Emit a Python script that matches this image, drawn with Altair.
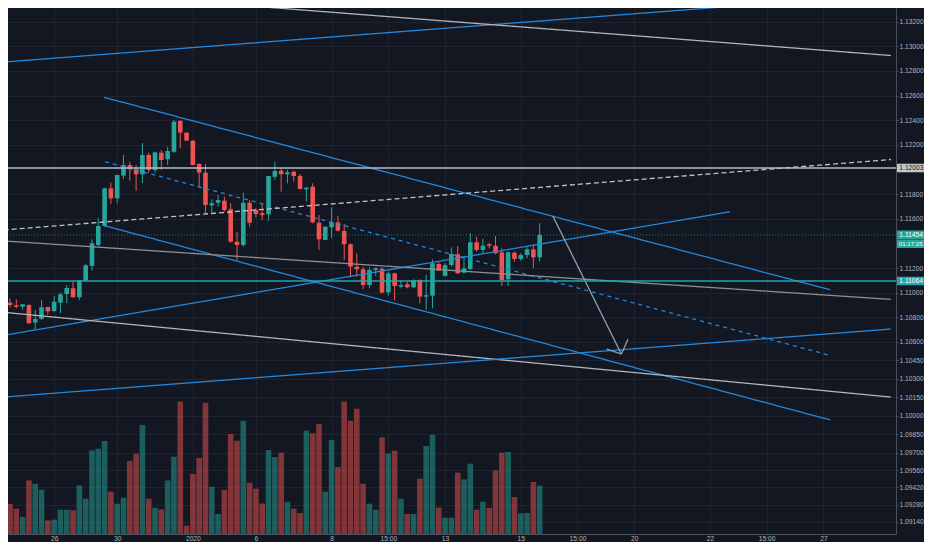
import json
import altair as alt
import pandas as pd

# ---------------- data ----------------
bar_index = list(range(86))

opens = [1.10803, 1.10919, 1.10898, 1.10886, 1.10900, 1.10757, 1.10787, 1.10884, 1.10851, 1.10919,
         1.10989, 1.11036, 1.10963, 1.11097, 1.11217, 1.11387, 1.11541, 1.11847, 1.11766, 1.11950,
         1.12036, 1.12002, 1.11961, 1.12118, 1.11996, 1.12136, 1.12083, 1.12144, 1.12394, 1.12299,
         1.12234, 1.12045, 1.11974, 1.11709, 1.11730, 1.11747, 1.11677, 1.11414, 1.11387, 1.11730,
         1.11671, 1.11644, 1.11636, 1.11941, 1.11990, 1.11961, 1.11982, 1.11947, 1.11839, 1.11860,
         1.11568, 1.11428, 1.11531, 1.11571, 1.11501, 1.11393, 1.11211, 1.11190, 1.11062, 1.11184,
         1.11195, 1.11003, 1.11157, 1.11049, 1.11068, 1.11044, 1.11103, 1.10968, 1.10976, 1.11233,
         1.11136, 1.11225, 1.11312, 1.11162, 1.11192, 1.11409, 1.11347, 1.11393, 1.11381, 1.11328,
         1.11109, 1.11325, 1.11274, 1.11306, 1.11352, 1.11287]

highs = [1.10933, 1.10955, 1.10946, 1.10906, 1.10906, 1.10860, 1.10941, 1.10886, 1.10973, 1.11000,
         1.11062, 1.11097, 1.11105, 1.11233, 1.11433, 1.11604, 1.11852, 1.11893, 1.11957, 1.12118,
         1.12063, 1.12036, 1.12215, 1.12136, 1.12144, 1.12158, 1.12185, 1.12402, 1.12402, 1.12299,
         1.12239, 1.12050, 1.12045, 1.11758, 1.11793, 1.11779, 1.11726, 1.11495, 1.11812, 1.11752,
         1.11685, 1.11726, 1.11950, 1.12063, 1.12010, 1.11996, 1.11990, 1.11963, 1.11860, 1.11888,
         1.11631, 1.11538, 1.11693, 1.11623, 1.11558, 1.11401, 1.11320, 1.11211, 1.11206, 1.11206,
         1.11206, 1.11170, 1.11162, 1.11103, 1.11089, 1.11109, 1.11109, 1.11144, 1.11271, 1.11252,
         1.11239, 1.11368, 1.11379, 1.11298, 1.11482, 1.11454, 1.11436, 1.11406, 1.11460, 1.11360,
         1.11333, 1.11333, 1.11320, 1.11373, 1.11387, 1.11563]

lows = [1.10795, 1.10882, 1.10873, 1.10860, 1.10748, 1.10697, 1.10778, 1.10821, 1.10846, 1.10833,
        1.10914, 1.10960, 1.10941, 1.11095, 1.11179, 1.11373, 1.11536, 1.11720, 1.11726, 1.11923,
        1.11909, 1.11828, 1.11890, 1.11974, 1.11974, 1.11996, 1.12036, 1.12136, 1.12172, 1.12234,
        1.12034, 1.11860, 1.11644, 1.11649, 1.11698, 1.11657, 1.11406, 1.11265, 1.11373, 1.11536,
        1.11612, 1.11590, 1.11584, 1.11915, 1.11820, 1.11888, 1.11901, 1.11840, 1.11739, 1.11563,
        1.11347, 1.11426, 1.11442, 1.11495, 1.11265, 1.11125, 1.11130, 1.11028, 1.11036, 1.11136,
        1.10998, 1.10976, 1.10935, 1.11036, 1.11036, 1.11036, 1.10914, 1.10860, 1.10873, 1.11177,
        1.11130, 1.11211, 1.11152, 1.11157, 1.11184, 1.11333, 1.11320, 1.11360, 1.11312, 1.11054,
        1.11054, 1.11252, 1.11260, 1.11279, 1.11198, 1.11252]

closes = [1.10914, 1.10900, 1.10886, 1.10906, 1.10752, 1.10787, 1.10882, 1.10849, 1.10927, 1.10987,
          1.11038, 1.10963, 1.11103, 1.11222, 1.11401, 1.11541, 1.11847, 1.11766, 1.11955, 1.12036,
          1.12002, 1.11961, 1.12118, 1.11996, 1.12139, 1.12077, 1.12150, 1.12388, 1.12299, 1.12234,
          1.12036, 1.11974, 1.11712, 1.11726, 1.11752, 1.11671, 1.11414, 1.11387, 1.11730, 1.11568,
          1.11639, 1.11631, 1.11947, 1.11988, 1.11961, 1.11977, 1.11947, 1.11842, 1.11852, 1.11571,
          1.11433, 1.11536, 1.11571, 1.11503, 1.11393, 1.11211, 1.11190, 1.11062, 1.11184, 1.11198,
          1.11000, 1.11157, 1.11054, 1.11062, 1.11044, 1.11103, 1.10968, 1.10979, 1.11239, 1.11179,
          1.11225, 1.11314, 1.11157, 1.11198, 1.11409, 1.11347, 1.11381, 1.11381, 1.11320, 1.11103,
          1.11328, 1.11274, 1.11306, 1.11352, 1.11287, 1.11469]

volumes = [6700, 3000, 2530, 1700, 5360, 5030, 4430, 1360, 1430, 2430,
           2430, 2360, 4860, 3530, 8360, 8530, 9300, 4230, 3030, 3630,
           7300, 8030, 10900, 3530, 2630, 2460, 5360, 7730, 13260, 830,
           6000, 7600, 13130, 4730, 2000, 4400, 10000, 9330, 11330, 5130,
           4530, 3060, 8400, 7700, 8130, 3230, 2530, 2100, 10330, 10060,
           11000, 4230, 9400, 6700, 13260, 11330, 12530, 5030, 3030, 2430,
           9660, 8030, 8330, 3530, 2000, 2000, 5530, 8800, 9930, 2660,
           1630, 1630, 6130, 5460, 7030, 2430, 3230, 2600, 6360, 8130,
           8200, 3700, 2060, 2100, 5200, 4830]

x_tick_bars = [8, 18, 30, 40, 52, 61, 70, 82, 91, 100, 112, 121, 130]
x_tick_labels = ["26", "30", "2020", "6", "8", "15:00", "13", "15", "15:00", "20", "22", "15:00", "27"]

price_ticks = [1.132, 1.130, 1.128, 1.126, 1.124, 1.122, 1.118, 1.116, 1.112, 1.110,
               1.108, 1.106, 1.1045, 1.103, 1.1015, 1.100, 1.0985, 1.097, 1.0956, 1.0942,
               1.0928, 1.0914]

# drawn trend lines (start bar, start price) -> (end bar, end price)
line_kind = ["blue", "gray", "blue", "blue", "blue_dash", "white_dash", "blue",
             "gray_thin", "gray", "blue", "arrow", "arrow", "arrow"]
line_start_bar = [0, 15.9, 15.9, 15.9, 16.06, 0, 0, 0, 0, 0, 87.09, 95.61, 97.96]
line_start_price = [1.12872, 1.13419, 1.12586, 1.11545, 1.12063, 1.11509, 1.10654,
                    1.11420, 1.10841, 1.10153, 1.11622, 1.10543, 1.10502]
line_end_bar = [140.7, 140.7, 131.1, 131.1, 131.1, 140.7, 115.2, 140.7, 140.7, 140.7,
                97.96, 97.96, 99.01]
line_end_price = [1.13423, 1.12925, 1.11023, 1.09967, 1.10490, 1.12081, 1.11657,
                  1.10946, 1.10153, 1.10705, 1.10502, 1.10502, 1.10622]

level_kind = ["level_gray", "level_teal"]
level_prices = [1.12012, 1.11095]
level_texts = ["1.12003", "1.11064"]

last_price = 1.11469
last_price_text = "1.11454"
countdown_text = "01:17:25"

# ---------------- style ----------------
BG = "#131722"
UP = "#26a69a"
DOWN = "#ef5350"
GRID = "#1f2330"
AXIS = "#4a4e59"
TXT = "#b2b5be"
FONT = "Liberation Sans"
FS = 6.7
FS_TIMER = 6.1

kinds_all = ["blue", "blue_dash", "white_dash", "gray", "gray_thin", "arrow", "level_gray", "level_teal"]
kinds_color = ["#2387dc", "#2387dc", "#c0c3ca", "#b1b4bb", "#8b8e97", "#8fa1ae", "#b9bcc3", "#22a5b5"]
kinds_dash = [[1, 0], [4, 4], [5, 3], [1, 0], [1, 0], [1, 0], [1, 0], [1, 0]]

candles = pd.DataFrame({"i": bar_index, "o": opens, "h": highs, "l": lows, "c": closes, "v": volumes})
lines = pd.DataFrame({"kind": line_kind, "i1": line_start_bar, "p1": line_start_price,
                      "i2": line_end_bar, "p2": line_end_price})
levels = pd.DataFrame({"kind": level_kind, "p": level_prices, "t": level_texts})
last_df = pd.DataFrame({"p": [last_price], "t": [last_price_text], "timer": [countdown_text]})

xs = alt.Scale(domain=[1.474, 140.72], nice=False, zero=False)
ys = alt.Scale(domain=[1.090416, 1.133106], nice=False, zero=False)

x_label_expr = f"{json.dumps(x_tick_labels)}[indexof({json.dumps(x_tick_bars)}, datum.value)]"

x_axis = alt.Axis(values=x_tick_bars, labelExpr=x_label_expr, grid=True, gridColor=GRID,
                  domainColor=AXIS, ticks=False, labelColor=TXT, labelFontSize=FS, labelFont=FONT,
                  labelPadding=1, labelFlush=False, labelOverlap=False, title=None)
y_axis = alt.Axis(orient="right", values=price_ticks, labelExpr="format(datum.value, '.5f')",
                  grid=True, gridColor=GRID, domainColor=AXIS, tickColor=AXIS, tickSize=2,
                  labelPadding=1, labelColor=TXT, labelFontSize=FS, labelFont=FONT,
                  labelOverlap=False, labelFlush=False, title=None)

color_up_down = alt.condition("datum.c >= datum.o", alt.value(UP), alt.value(DOWN))
kind_color = alt.Color("kind:N", scale=alt.Scale(domain=kinds_all, range=kinds_color), legend=None)

X = alt.X("i:Q", scale=xs, axis=x_axis)

volume = alt.Chart(candles).mark_bar(size=5.6, opacity=0.5, clip=True).encode(
    x=X,
    y=alt.Y("v:Q", scale=alt.Scale(domain=[0, 52600], nice=False), axis=None),
    color=color_up_down,
)

wicks = alt.Chart(candles).mark_rule(strokeWidth=1, clip=True).encode(
    x=X,
    y=alt.Y("l:Q", scale=ys, axis=y_axis),
    y2="h:Q",
    color=color_up_down,
)

bodies = alt.Chart(candles).mark_bar(size=4.6, clip=True).encode(
    x=X,
    y=alt.Y("o:Q", scale=ys, axis=y_axis),
    y2="c:Q",
    color=color_up_down,
)

trend = alt.Chart(lines).mark_rule(strokeWidth=1.3, clip=True).encode(
    x=alt.X("i1:Q", scale=xs, axis=x_axis),
    x2="i2:Q",
    y=alt.Y("p1:Q", scale=ys, axis=y_axis),
    y2="p2:Q",
    color=kind_color,
    strokeDash=alt.StrokeDash("kind:N", scale=alt.Scale(domain=kinds_all, range=kinds_dash), legend=None),
)

level_lines = alt.Chart(levels).mark_rule(strokeWidth=1.6, clip=True).encode(
    y=alt.Y("p:Q", scale=ys, axis=y_axis),
    color=kind_color,
)

last_line = alt.Chart(last_df).mark_rule(strokeWidth=1, strokeDash=[1, 2], color=UP, opacity=0.7, clip=True).encode(
    y=alt.Y("p:Q", scale=ys, axis=y_axis),
)

BOX = "M0,-0.24H2V0.24H0Z"
BOX_X = 889
TEXT_X = 891.3

level_boxes = alt.Chart(levels).mark_point(shape=BOX, size=1296, filled=True, opacity=1, strokeWidth=0).encode(
    x=alt.value(BOX_X),
    y=alt.Y("p:Q", scale=ys, axis=y_axis),
    fill=alt.condition("datum.kind == 'level_gray'", alt.value("#c3c6cd"), alt.value("#22a5b0")),
)
level_text = alt.Chart(levels).mark_text(align="left", baseline="middle", fontSize=FS, font=FONT).encode(
    x=alt.value(TEXT_X),
    y=alt.Y("p:Q", scale=ys, axis=y_axis),
    text="t:N",
    color=alt.condition("datum.kind == 'level_gray'", alt.value(BG), alt.value("#ffffff")),
)

last_box = alt.Chart(last_df).mark_point(shape=BOX, size=1296, filled=True, opacity=1, strokeWidth=0, color=UP).encode(
    x=alt.value(BOX_X),
    y=alt.Y("p:Q", scale=ys, axis=y_axis),
)
last_text = alt.Chart(last_df).mark_text(align="left", baseline="middle", fontSize=FS, font=FONT, color="#ffffff").encode(
    x=alt.value(TEXT_X),
    y=alt.Y("p:Q", scale=ys, axis=y_axis),
    text="t:N",
)
timer_box = alt.Chart(last_df).mark_point(shape=BOX, size=1296, filled=True, opacity=1, strokeWidth=0,
                                          color=UP, yOffset=8.8).encode(
    x=alt.value(BOX_X),
    y=alt.Y("p:Q", scale=ys, axis=y_axis),
)
timer_text = alt.Chart(last_df).mark_text(align="left", baseline="middle", fontSize=FS_TIMER, font=FONT,
                                          color="#ffffff", yOffset=8.8).encode(
    x=alt.value(890.8),
    y=alt.Y("p:Q", scale=ys, axis=y_axis),
    text="timer:N",
)

price_layer = alt.layer(wicks, bodies, trend, level_lines, last_line,
                        level_boxes, level_text, last_box, last_text, timer_box, timer_text)

chart = alt.layer(volume, price_layer).resolve_scale(y="independent").properties(
    width=888,
    height=526,
    background=BG,
    padding={"left": 0, "top": 0, "right": 28, "bottom": 8},
    autosize=alt.AutoSizeParams(type="none"),
).configure_view(strokeWidth=0)

chart.save("out.html", embed_options={"renderer": "svg", "actions": False})
